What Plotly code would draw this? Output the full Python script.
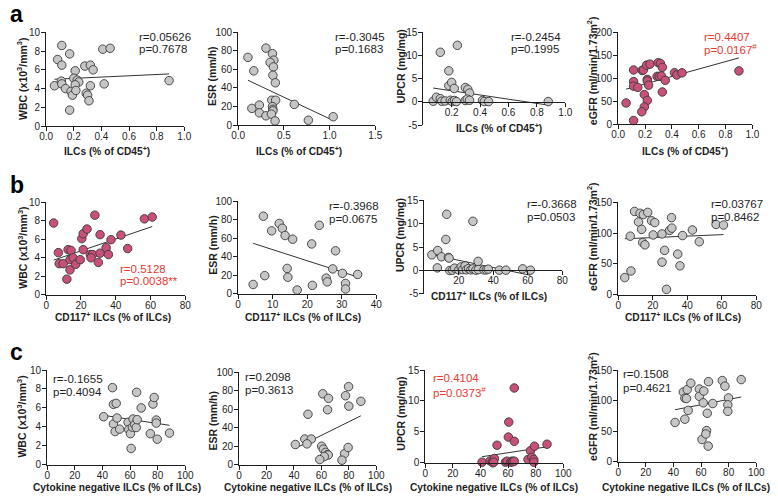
import numpy as np
import plotly.graph_objects as go

# ---------------- data ----------------
# Row a : ILCs (% of CD45+)
a_wbc_x = [0.113, 0.17, 0.083, 0.113, 0.41, 0.463, 0.28, 0.32, 0.34, 0.21, 0.06, 0.11, 0.113, 0.14, 0.18, 0.19,
           0.2, 0.225, 0.236, 0.21, 0.215, 0.32, 0.29, 0.3, 0.31, 0.17, 0.42, 0.89]
a_wbc_y = [8.6, 7.7, 7.1, 6.5, 8.2, 8.3, 6.4, 6.5, 6.0, 5.9, 4.3, 4.8, 4.5, 4.0, 3.7, 3.3,
           5.1, 4.9, 4.7, 4.4, 3.8, 4.3, 3.5, 3.3, 2.7, 1.7, 4.5, 4.85]
a_esr_x = [0.107, 0.304, 0.171, 0.375, 0.39, 0.35, 0.386, 0.38, 0.407, 0.15, 0.232, 0.232, 0.304, 0.368,
           0.41, 0.375, 0.38, 0.38, 0.364, 0.404, 0.614, 0.768, 1.04]
a_esr_y = [73, 83, 58.5, 77, 70, 67.6, 62.7, 53.7, 45.6, 18, 21.6, 13.2, 10, 26.8,
           26.8, 19.9, 17, 15.3, 11.8, 4.5, 22.3, 5.2, 9]
a_upcr_x = [0.12, 0.24, 0.18, 0.18, 0.2, 0.218, 0.296, 0.314, 0.326, 0.07, 0.093, 0.12, 0.13, 0.154,
            0.19, 0.204, 0.22, 0.234, 0.296, 0.31, 0.326, 0.417, 0.43, 0.46, 0.88]
a_upcr_y = [10.7, 12.2, 6.7, 3.5, 4.2, 2.9, 3.1, 2.7, 1.9, 0.14, 1.0, 0.7, 0.14, 0.2,
            0.35, 0.07, 0.3, 0.07, 0.3, 0.6, 0.35, 0.3, 0.07, 0.07, 0.07]
a_egfr_x = [0.059, 0.115, 0.115, 0.115, 0.115, 0.146, 0.178, 0.188, 0.212, 0.237, 0.217, 0.217, 0.227,
            0.195, 0.217, 0.195, 0.176, 0.298, 0.315, 0.329, 0.29, 0.305, 0.322, 0.351, 0.329, 0.42,
            0.437, 0.476, 0.9]
a_egfr_y = [46, 118, 92.6, 82.7, 7.8, 80, 117, 118, 128.6, 130.7, 97.5, 94, 84.8,
            64.3, 51.6, 37.5, 26.9, 134, 132, 123.7, 104, 104, 105, 95.4, 70, 112,
            107, 111.7, 116]

# Row b : CD117+ ILCs (% of ILCs)
b_wbc_x = [4.3, 7.0, 7.5, 9.8, 12.6, 14.3, 13.7, 15.5, 13.7, 11.9, 17, 19.6, 20.5, 21.3, 23.5, 21.3,
           28, 25.4, 26.7, 25.8, 30, 31, 31, 34.5, 35.8, 37.3, 43, 46.9, 56.5, 61]
b_wbc_y = [7.75, 4.56, 3.37, 3.37, 4.88, 4.8, 3.8, 4.0, 2.7, 1.7, 3.3, 3.8, 6.07, 6.6, 7.1, 4.88,
           8.6, 4.35, 4.35, 4.0, 3.5, 6.5, 4.5, 5.1, 4.35, 5.96, 6.45, 5.0, 8.2, 8.4]
b_esr_x = [4.35, 7.3, 7.7, 9.7, 11.9, 12.8, 13.6, 14.2, 14.4, 15.8, 17.1, 21.3, 21.5, 23.5,
           25.5, 25.8, 27.4, 28.2, 30.2, 31.1, 31.1, 34.6]
b_esr_y = [10.2, 83.8, 19.7, 68, 76, 70.8, 63, 27.5, 18, 59, 4.2, 53.9, 9.2, 74,
           17, 13, 27, 46.5, 22.2, 11.3, 5.3, 21]
b_upcr_x = [4.4, 7.8, 7.6, 10, 12.5, 13, 14, 14.4, 14.8, 16.3, 17.6, 20, 21.4, 22.3, 23.7, 24.4,
            25.7, 27, 28.2, 28.2, 29.9, 31.2, 31.4, 34.6, 36, 37.1, 43.5, 47.3, 57, 61.5]
b_upcr_y = [3.35, 4.26, 0.56, 2.93, 6.63, 12.0, 2.8, 2.65, 0, 0.07, 0.5, 0.14, 0.77, 0.2, 0.98, 0.14,
            0.42, 0.14, 10.5, 0.35, 0.07, 1.95, 0.2, 0.14, 0.14, 0.28, 0.07, 0.07, 0.35, 0.07]
b_egfr_x = [3.8, 7.4, 7, 9.5, 12.7, 14.6, 17.1, 11.8, 13.6, 14.2, 15.5, 19.3, 21.2, 20.3,
            25.4, 25.4, 26.9, 28, 29.8, 31.1, 30.9, 34.5, 35.8, 37.3, 43, 47, 56.7, 61]
b_egfr_y = [28, 38.7, 95, 135, 132, 130, 133.5, 118, 106, 84.8, 81, 120, 117, 97,
            98.6, 53, 72, 9, 104.4, 108, 125, 66, 47, 96, 105, 86, 114, 113]

# Row c : Cytokine negative ILCs (% of ILCs)
c_wbc_x = [40.9, 47.3, 48, 50, 48, 50.6, 49.2, 52.5, 58.6, 59.1, 60.3, 60.8, 62.2, 61.7, 63.4,
           64.5, 65.2, 64.8, 68.1, 74.7, 76.6, 77.5, 79, 79, 79.7, 88.6]
c_wbc_y = [5.07, 8.14, 6.38, 6.48, 4.3, 4.93, 3.5, 3.76, 4.48, 3.72, 3.28, 1.72, 4.83, 3.97, 4.24,
           3.93, 4.76, 7.65, 6.0, 3.28, 6.41, 7.1, 4.72, 4.4, 2.7, 3.34]
c_esr_x = [41, 47.9, 52.6, 49.5, 50.2, 61, 65.2, 64.5, 60.2, 61.4, 63.1, 64.5, 65, 62.1, 58.8,
           77.6, 79.8, 80, 88.8, 76.9, 79.5, 75]
c_esr_y = [21.8, 27.7, 27.7, 22.5, 54.4, 76.5, 71.6, 59.3, 20, 16.8, 13.3, 10.9, 10.5, 8.8, 5.6,
           74.4, 84.2, 63.2, 68.4, 11.9, 18.6, 4.9]
c_upcr_x = [41.2, 47, 48.5, 49, 50.1, 49.6, 52, 58.1, 59.3, 60.5, 60.2, 61.9, 62.8, 63.5, 64.5,
            64.5, 64.5, 74.4, 76.2, 77.2, 78.6, 78.6, 79.1, 88.2]
c_upcr_y = [0.1, 0.3, 0.15, 0, 0.68, 0.1, 2.84, 0.1, 0.26, 6.58, 4.16, 0.1, 0.26, 0.16, 12.1,
            3.47, 0.26, 0.53, 1.95, 0.9, 0.53, 0.1, 2.68, 3.0]
c_egfr_x = [41.2, 47.2, 48.3, 49.5, 50, 52.6, 50.7, 48.3, 58.8, 58.8, 62, 61.6, 60.7, 64, 63.5,
            64.5, 65.2, 65.4, 68.5, 75.4, 77.3, 79.9, 79.4, 79.4, 89.1]
c_egfr_y = [64.3, 114, 104, 103.4, 118, 128.6, 84, 69.6, 119, 107, 115.7, 96.4, 36.4, 51, 45.5,
            79.3, 25.7, 131, 95.3, 132.8, 123.7, 104.4, 93.2, 82.5, 134.4]

# correlation statistics
r_texts = ["r=0.05626", "r=-0.3045", "r=-0.2454", "r=0.4407",
           "r=0.5128", "r=-0.3968", "r=-0.3668", "r=0.03767",
           "r=-0.1655", "r=0.2098", "r=0.4104", "r=0.1508"]
p_texts = ["p=0.7678", "p=0.1683", "p=0.1995", "p=0.0167<sup>#</sup>",
           "p=0.0038**", "p=0.0675", "p=0.0503", "p=0.8462",
           "p=0.4094", "p=0.3613", "p=0.0373<sup>#</sup>", "p=0.4621"]
significant = [False, False, False, True, True, False, False, False, False, False, True, False]

# tick values
ticks_ilc = [0.0, 0.2, 0.4, 0.6, 0.8, 1.0]
ticks_ilc_esr = [0.0, 0.5, 1.0, 1.5]
ticks_ilc_upcr = [0.2, 0.4, 0.6, 0.8, 1.0]
ticks_cd117 = [0, 20, 40, 60, 80]
ticks_cd117_esr = [0, 10, 20, 30, 40]
ticks_cd117_upcr = [20, 40, 60, 80]
ticks_cyt = [0, 20, 40, 60, 80, 100]
ticks_wbc = [0, 2, 4, 6, 8, 10]
ticks_esr = [0, 20, 40, 60, 80, 100]
ticks_upcr = [-5, 0, 5, 10, 15]
ticks_upcr_c = [0, 5, 10, 15]
ticks_egfr_a = [0, 50, 100, 150, 200]
ticks_egfr = [0, 50, 100, 150]

y_titles = ["WBC (x10<sup>3</sup>/mm<sup>3</sup>)", "ESR (mm/h)", "UPCR (mg/mg)",
            "eGFR (ml/min/1.73m<sup>2</sup>)"]
x_titles = ["ILCs (% of CD45<sup>+</sup>)", "CD117<sup>+</sup> ILCs (% of ILCs)",
            "Cytokine negative ILCs (% of ILCs)"]
panel_letters = ["a", "b", "c"]

# ---------------- layout helpers ----------------
W, H = 778, 500
FONT = "Arial, Liberation Sans, sans-serif"
GRAY = "#c6c6c6"
PINK = "#c9507a"
RED = "#e8372f"
INK = "#1e1e1e"


def fx(px):
    return px / W


def fy(py):
    return 1 - py / H


panels = [
    # row a
    dict(x=a_wbc_x, y=a_wbc_y, xr=[0, 1], xt=ticks_ilc, xf="{:.1f}", yr=[0, 10], yt=ticks_wbc,
         box=(40, 181, 27, 123), txt=(133, 32, 44), yt_pos=(15, 75), xt_pos=(102, 149), row=0, col=0),
    dict(x=a_esr_x, y=a_esr_y, xr=[0, 1.5], xt=ticks_ilc_esr, xf="{:.1f}", yr=[0, 100], yt=ticks_esr,
         box=(236, 376, 27, 122), txt=(333, 32, 44), yt_pos=(210, 72), xt_pos=(298, 149), row=0, col=1),
    dict(x=a_upcr_x, y=a_upcr_y, xr=[0, 1], xt=ticks_ilc_upcr, xf="{:.1f}", yr=[-5, 15], yt=ticks_upcr,
         box=(425, 570, 27, 122), txt=(513, 32, 44), yt_pos=(402, 62), xt_pos=(502, 125), row=0, col=2,
         free=True),
    dict(x=a_egfr_x, y=a_egfr_y, xr=[0, 1], xt=ticks_ilc, xf="{:.1f}", yr=[0, 200], yt=ticks_egfr_a,
         box=(624, 761, 27, 121), txt=(710, 32, 44), yt_pos=(597, 66), xt_pos=(692, 149), row=0, col=3),
    # row b
    dict(x=b_wbc_x, y=b_wbc_y, xr=[0, 80], xt=ticks_cd117, xf="{:g}", yr=[0, 10], yt=ticks_wbc,
         box=(40, 182, 201, 296), txt=(113, 269, 282), yt_pos=(15, 248), xt_pos=(108, 319), row=1, col=0),
    dict(x=b_esr_x, y=b_esr_y, xr=[0, 40], xt=ticks_cd117_esr, xf="{:g}", yr=[0, 100], yt=ticks_esr,
         box=(236, 377, 200, 295), txt=(327, 205, 218), yt_pos=(210, 245), xt_pos=(302, 319), row=1, col=1),
    dict(x=b_upcr_x, y=b_upcr_y, xr=[0, 80], xt=ticks_cd117_upcr, xf="{:g}", yr=[-5, 15], yt=ticks_upcr,
         box=(426, 567, 199, 295), txt=(529, 203, 216), yt_pos=(402, 235), xt_pos=(492, 297), row=1, col=2,
         free=True),
    dict(x=b_egfr_x, y=b_egfr_y, xr=[0, 80], xt=ticks_cd117, xf="{:g}", yr=[0, 150], yt=ticks_egfr,
         box=(624, 765, 201, 296), txt=(717, 203, 216), yt_pos=(597, 236), xt_pos=(690, 319), row=1, col=3),
    # row c
    dict(x=c_wbc_x, y=c_wbc_y, xr=[0, 100], xt=ticks_cyt, xf="{:g}", yr=[0, 10], yt=ticks_wbc,
         box=(41, 182, 373, 470), txt=(45, 382, 395), yt_pos=(15, 421), xt_pos=(112, 493), row=2, col=0),
    dict(x=c_esr_x, y=c_esr_y, xr=[0, 100], xt=ticks_cyt, xf="{:g}", yr=[0, 100], yt=ticks_esr,
         box=(237, 377, 375, 470), txt=(241, 380, 393), yt_pos=(210, 425), xt_pos=(307, 493), row=2, col=1),
    dict(x=c_upcr_x, y=c_upcr_y, xr=[0, 100], xt=ticks_cyt, xf="{:g}", yr=[0, 15], yt=ticks_upcr_c,
         box=(427, 568, 373, 468), txt=(433, 381, 395), yt_pos=(402, 418), xt_pos=(497, 493), row=2, col=2),
    dict(x=c_egfr_x, y=c_egfr_y, xr=[0, 100], xt=ticks_cyt, xf="{:g}", yr=[0, 150], yt=ticks_egfr,
         box=(624, 765, 373, 467), txt=(627, 377, 391), yt_pos=(597, 410), xt_pos=(693, 493), row=2, col=3),
]

fig = go.Figure()
annotations = []
layout_axes = {}

for i, pnl in enumerate(panels):
    n = i + 1
    xa = "x" if n == 1 else f"x{n}"
    ya = "y" if n == 1 else f"y{n}"
    xkey = "xaxis" if n == 1 else f"xaxis{n}"
    ykey = "yaxis" if n == 1 else f"yaxis{n}"
    sig = significant[i]
    fill = PINK if sig else GRAY

    xs = np.asarray(pnl["x"], float)
    ys = np.asarray(pnl["y"], float)
    slope, icpt = np.polyfit(xs, ys, 1)
    lx = np.array([xs.min(), xs.max()])
    fig.add_trace(go.Scatter(x=lx, y=slope * lx + icpt, mode="lines", xaxis=xa, yaxis=ya,
                             line=dict(color="#333333", width=1), hoverinfo="skip",
                             cliponaxis=False))
    fig.add_trace(go.Scatter(x=xs, y=ys, mode="markers", xaxis=xa, yaxis=ya, cliponaxis=False,
                             marker=dict(size=8.5, color=fill, line=dict(color="#3a3a3a", width=0.9))))

    l, r, t, b = pnl["box"]
    axis_common = dict(showline=True, linecolor=INK, linewidth=1, ticks="outside", ticklen=4,
                       tickwidth=1, tickcolor=INK, showgrid=False, zeroline=False,
                       tickfont=dict(family=FONT, size=10, color=INK))
    xcfg = dict(domain=[fx(l), fx(r)], range=pnl["xr"], tickvals=pnl["xt"], ticklabelstandoff=-3,
                ticktext=[pnl["xf"].format(v) for v in pnl["xt"]], **axis_common)
    if pnl.get("free"):
        y0 = b - (0 - pnl["yr"][0]) / (pnl["yr"][1] - pnl["yr"][0]) * (b - t)
        xcfg.update(anchor="free", position=fy(y0))
    else:
        xcfg.update(anchor=ya)
    ycfg = dict(domain=[fy(b), fy(t)], range=pnl["yr"], tickvals=pnl["yt"], ticklabelstandoff=-1,
                ticktext=[f"{v:g}" for v in pnl["yt"]], anchor=xa, **axis_common)
    layout_axes[xkey] = xcfg
    layout_axes[ykey] = ycfg

    # r / p text
    tcol = RED if sig else INK
    tx, ry, py_ = pnl["txt"]
    for txt, yy in ((r_texts[i], ry), (p_texts[i], py_)):
        annotations.append(dict(text=txt, x=fx(tx), y=fy(yy), xref="paper", yref="paper",
                                xanchor="left", yanchor="middle", showarrow=False,
                                font=dict(family=FONT, size=11.5, color=tcol)))
    # axis titles
    yx, yy = pnl["yt_pos"]
    annotations.append(dict(text=f"<b>{y_titles[pnl['col']]}</b>", x=fx(yx), y=fy(yy),
                            xref="paper", yref="paper", textangle=-90, showarrow=False,
                            xanchor="center", yanchor="middle",
                            font=dict(family=FONT, size=10.5, color=INK)))
    xx, xy = pnl["xt_pos"]
    annotations.append(dict(text=f"<b>{x_titles[pnl['row']]}</b>", x=fx(xx), y=fy(xy),
                            xref="paper", yref="paper", showarrow=False,
                            xanchor="center", yanchor="middle",
                            font=dict(family=FONT, size=10.2, color=INK)))

for letter, ly in zip(panel_letters, (8, 183, 355)):
    annotations.append(dict(text=f"<b>{letter}</b>", x=fx(1), y=fy(ly), xref="paper", yref="paper",
                            xanchor="left", yanchor="middle", showarrow=False,
                            font=dict(family=FONT, size=23, color="#000000")))

fig.update_layout(width=W, height=H, margin=dict(l=0, r=0, t=0, b=0),
                  paper_bgcolor="white", plot_bgcolor="white", showlegend=False,
                  annotations=annotations, **layout_axes)

fig.write_html("out.html", config={"displayModeBar": False, "staticPlot": True},
               post_script="document.body.style.margin='0';document.body.style.overflow='hidden';")
